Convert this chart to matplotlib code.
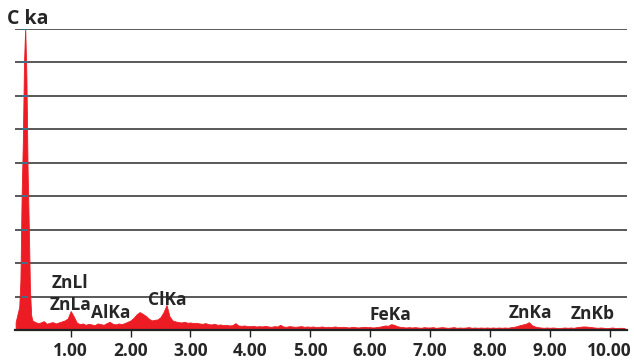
import numpy as np
import matplotlib.pyplot as plt

# EDS spectrum: intensity per energy channel (keV), arbitrary units (1 grid step = 1)
# carbon peak region, fine channels
peak_energy = [0.08, 0.10, 0.12, 0.14, 0.16, 0.18, 0.20, 0.22, 0.24, 0.26,
               0.28, 0.30, 0.32, 0.34, 0.36, 0.38]
peak_counts = [0.25, 0.40, 0.55, 0.70, 1.50, 4.00, 5.60, 8.00, 9.05, 7.60,
               4.80, 3.10, 1.20, 0.45, 0.30, 0.28]

# rest of the spectrum, 0.05 keV channels from 0.40 keV
counts = [
    0.26, 0.22, 0.24, 0.28, 0.20, 0.23, 0.25, 0.21, 0.24, 0.27, 0.30, 0.36,
    0.58, 0.42, 0.24, 0.19, 0.21, 0.17, 0.20, 0.18, 0.16, 0.21, 0.19, 0.17, 0.22, 0.26, 0.20, 0.18, 0.21, 0.19, 0.22, 0.26,
    0.30, 0.38, 0.48, 0.55, 0.50, 0.44, 0.36, 0.30, 0.32, 0.33, 0.40, 0.55, 0.76, 0.42, 0.30, 0.27, 0.25, 0.24, 0.26, 0.23,
    0.24, 0.22, 0.23, 0.21, 0.20, 0.22, 0.19, 0.18, 0.20, 0.17, 0.18, 0.16, 0.17, 0.15, 0.16, 0.22, 0.15, 0.14, 0.15, 0.13,
    0.13, 0.14, 0.12, 0.13, 0.12, 0.14, 0.12, 0.11, 0.13, 0.12, 0.17, 0.12, 0.11, 0.13, 0.12, 0.11, 0.12, 0.13, 0.11, 0.12,
    0.11, 0.12, 0.10, 0.11, 0.12, 0.10, 0.11, 0.10, 0.12, 0.11, 0.10, 0.11, 0.10, 0.09, 0.11, 0.10, 0.09, 0.10, 0.11, 0.10,
    0.10, 0.09, 0.10, 0.11, 0.13, 0.15, 0.14, 0.19, 0.17, 0.13, 0.11, 0.10, 0.09, 0.10, 0.09, 0.10, 0.09, 0.08, 0.10, 0.09,
    0.09, 0.10, 0.08, 0.09, 0.10, 0.09, 0.08, 0.09, 0.10, 0.08, 0.09, 0.08, 0.09, 0.10, 0.08, 0.09, 0.08, 0.09, 0.08, 0.09,
    0.08, 0.09, 0.08, 0.09, 0.08, 0.09, 0.08, 0.10, 0.11, 0.13, 0.16, 0.18, 0.20, 0.25, 0.16, 0.12, 0.10, 0.09, 0.08, 0.09,
    0.08, 0.09, 0.08, 0.07, 0.08, 0.09, 0.08, 0.09, 0.08, 0.10, 0.11, 0.12, 0.12, 0.11, 0.10, 0.09, 0.08, 0.09, 0.08, 0.07,
    0.08, 0.09, 0.07, 0.08, 0.08, 0.07,
]
channel_energy = np.round(0.40 + 0.05 * np.arange(len(counts)), 2)

# peak labels: text, energy, height
labels = ["C ka", "ZnLl", "ZnLa", "AlKa", "ClKa", "FeKa", "ZnKa", "ZnKb"]
label_e = [0.29, 0.98, 0.99, 1.66, 2.61, 6.33, 8.67, 9.72]
label_y = [9.30, 1.43, 0.76, 0.52, 0.91, 0.45, 0.51, 0.48]

xticks = [1, 2, 3, 4, 5, 6, 7, 8, 9, 10]
xticklabels = ["1.00", "2.00", "3.00", "4.00", "5.00", "6.00", "7.00", "8.00", "9.00", "10.00"]

energy = np.concatenate([peak_energy, channel_energy])
intensity = np.concatenate([peak_counts, counts])

plt.rcParams['font.family'] = ['Open Sans', 'DejaVu Sans']

fig = plt.figure(figsize=(6.34, 3.61), dpi=100)
ax = fig.add_axes([0.0237, 0.0845, 0.9653, 0.8352])

for g in range(1, 10):
    ax.axhline(g, color='#2b2b2b', lw=1.1, zorder=1)

ax.fill_between(energy, 0, intensity, color='#ED1C24', lw=0.6, edgecolor='#ED1C24', zorder=2)
ax.plot([0.24] * 9, range(1, 10), ls='none', marker='_', ms=5, mew=1.2, color='#1f7f9f', zorder=3)

for t, e, h in zip(labels, label_e, label_y):
    fs = 14 if t == "C ka" else 12.5
    ax.text(e, h, t, ha='center', va='center', fontsize=fs, fontweight='bold',
            color='#262626', zorder=4, clip_on=False)

ax.set_xlim(0.07, 10.29)
ax.set_ylim(0, 9)
for s in ['top', 'left', 'right']:
    ax.spines[s].set_visible(False)
ax.spines['bottom'].set_color('#222222')
ax.spines['bottom'].set_linewidth(1.6)
ax.set_xticks(xticks)
ax.set_xticklabels(xticklabels, fontsize=12.5, fontweight='bold', color='#262626')
ax.tick_params(axis='x', direction='out', length=5, width=1, color='#222222', pad=3)
ax.set_yticks([])

fig.savefig('out.png', dpi=100)
